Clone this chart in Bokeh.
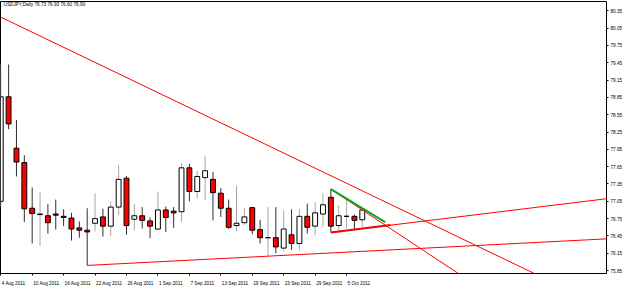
from bokeh.plotting import figure
from bokeh.models import FixedTicker, Label, Range1d, ColumnDataSource, PrintfTickFormatter
from bokeh.core.properties import value
from bokeh.embed import file_html
from bokeh.resources import INLINE

# ---------------- data ----------------
dates = ["4 Aug 2011", "5 Aug 2011", "8 Aug 2011", "9 Aug 2011", "10 Aug 2011", "11 Aug 2011",
         "12 Aug 2011", "15 Aug 2011", "16 Aug 2011", "17 Aug 2011", "18 Aug 2011", "19 Aug 2011",
         "22 Aug 2011", "23 Aug 2011", "24 Aug 2011", "25 Aug 2011", "26 Aug 2011", "29 Aug 2011",
         "30 Aug 2011", "31 Aug 2011", "1 Sep 2011", "2 Sep 2011", "5 Sep 2011", "6 Sep 2011",
         "7 Sep 2011", "8 Sep 2011", "9 Sep 2011", "12 Sep 2011", "13 Sep 2011", "14 Sep 2011",
         "15 Sep 2011", "16 Sep 2011", "19 Sep 2011", "20 Sep 2011", "21 Sep 2011", "22 Sep 2011",
         "23 Sep 2011", "26 Sep 2011", "27 Sep 2011", "28 Sep 2011", "29 Sep 2011", "30 Sep 2011",
         "3 Oct 2011", "4 Oct 2011", "5 Oct 2011", "6 Oct 2011", "7 Oct 2011"]

opens = [77.05, 78.86, 77.97, 77.72, 76.93, 76.82, 76.80, 76.83, 76.79, 76.76, 76.59, 76.55,
         76.67, 76.78, 76.62, 76.95, 77.45, 76.74, 76.80, 76.71, 76.57, 76.90, 76.88, 76.87,
         77.63, 77.22, 77.46, 77.43, 77.19, 76.93, 76.63, 76.68, 76.94, 76.56, 76.42, 76.42,
         76.24, 76.47, 76.32, 76.79, 76.62, 76.83, 77.12, 76.63, 76.79, 76.79, 76.73]
highs = [79.42, 79.42, 78.46, 77.85, 77.29, 77.21, 77.00, 77.08, 76.91, 76.85, 76.70, 76.93,
         77.19, 76.92, 77.05, 77.68, 77.49, 77.00, 76.95, 76.77, 77.22, 76.96, 76.95, 77.71,
         77.70, 77.58, 77.84, 77.56, 77.28, 77.08, 77.32, 76.93, 76.95, 76.73, 76.95, 76.95,
         76.89, 76.91, 76.92, 77.01, 77.04, 77.19, 77.26, 76.98, 77.08, 76.82, 76.93]
lows = [76.95, 78.30, 77.48, 76.69, 76.32, 76.28, 76.49, 76.56, 76.62, 76.37, 76.42, 75.94,
        76.53, 76.44, 76.45, 76.81, 76.47, 76.55, 76.58, 76.41, 76.55, 76.52, 76.59, 76.69,
        77.05, 77.10, 77.07, 76.72, 76.78, 76.57, 76.53, 76.64, 76.48, 76.32, 76.09, 76.15,
        76.18, 76.21, 76.20, 76.49, 76.46, 76.61, 76.51, 76.51, 76.58, 76.56, 76.60]
closes = [78.86, 78.39, 77.73, 76.92, 76.84, 76.83, 76.68, 76.81, 76.77, 76.57, 76.55, 76.52,
          76.75, 76.62, 76.95, 77.43, 76.63, 76.80, 76.72, 76.62, 76.90, 76.77, 76.85, 77.63,
          77.22, 77.48, 77.58, 77.20, 76.93, 76.60, 76.67, 76.78, 76.55, 76.42, 76.42, 76.26,
          76.57, 76.32, 76.79, 76.60, 76.85, 76.99, 76.62, 76.80, 76.79, 76.72, 76.90]

tick_labels = ["4 Aug 2011", "10 Aug 2011", "16 Aug 2011", "22 Aug 2011", "26 Aug 2011",
               "1 Sep 2011", "7 Sep 2011", "13 Sep 2011", "19 Sep 2011", "23 Sep 2011",
               "29 Sep 2011", "5 Oct 2011"]
price_ticks = [80.35, 80.05, 79.75, 79.45, 79.15, 78.85, 78.55, 78.25, 77.95, 77.65,
               77.35, 77.05, 76.75, 76.45, 76.15, 75.85]

title_text = "USDJPY,Daily  76.73 76.93 76.60 76.90"
last_price = 76.90

# trendlines: anchor1 (bar, price), anchor2 (bar, price), ray?, colour, width
tl_x0 = [0, 42, 42, 42, 42, 11]
tl_y0 = [80.24, 77.26, 77.26, 76.51, 76.51, 75.94]
tl_x1 = [40, 44, 48.9, 49.6, 45, 34]
tl_y1 = [77.624, 77.08, 76.69, 76.64, 76.56, 76.10]
tl_ray = [True, True, False, False, True, True]
tl_color = ["#FF0000", "#FF0000", "#16A016", "#FF0000", "#FF0000", "#FF0000"]
tl_width = [1, 1, 2, 2, 1, 1]

# ---------------- layout ----------------
W, H = 625, 288
FRAME_W = 606
PX_PER_BAR = 7.86
x_start = -0.03
x_end = x_start + FRAME_W / PX_PER_BAR
FONT = "Liberation Sans"
FS = "4.7px"

p = figure(width=W, height=H, output_backend="svg", toolbar_location=None,
           x_range=Range1d(x_start, x_end), y_range=Range1d(75.80, 80.51),
           y_axis_location="right", min_border_left=0, min_border_top=1,
           min_border_right=W - FRAME_W, min_border_bottom=12)
p.grid.visible = False
p.outline_line_color = "black"
p.outline_line_width = 1
p.background_fill_color = "white"
p.border_fill_color = "white"

# candles
xs = list(range(len(dates)))
bull = [c >= o for o, c in zip(opens, closes)]
src = ColumnDataSource(dict(
    x=xs, high=highs, low=lows,
    top=[max(o, c) for o, c in zip(opens, closes)],
    bottom=[min(o, c) for o, c in zip(opens, closes)],
    fill=["white" if b else "#FF0000" for b in bull],
    wick=["#A8A8A8" if b else "#303030" for b in bull],
))
p.segment(x0="x", y0="high", x1="x", y1="low", source=src, line_color="wick", line_width=1)
p.vbar(x="x", width=0.62, top="top", bottom="bottom", source=src,
       fill_color="fill", line_color="black", line_width=1)

# trendlines
for x0, y0, x1, y1, ray, col, lw in zip(tl_x0, tl_y0, tl_x1, tl_y1, tl_ray, tl_color, tl_width):
    if ray:
        slope = (y1 - y0) / (x1 - x0)
        xe = x_end + 1
        ye = y0 + slope * (xe - x0)
    else:
        xe, ye = x1, y1
    p.line([x0, xe], [y0, ye], line_color=col, line_width=lw)

# draw thin lines beneath? re-draw thick ones on top
# x axis (labels start at bar position)
cw = {' ': 0.278, 'A': 0.667, 'S': 0.667, 'O': 0.778, 'u': 0.556, 'g': 0.556, 'e': 0.556,
      'p': 0.556, 'c': 0.5, 't': 0.278}
def text_w(s, fpx=4.7):
    return sum(cw.get(ch, 0.556) for ch in s) * fpx

bar_ticks = [dates.index(lbl) for lbl in tick_labels]
centers = [b + (text_w(lbl) / 2 + 0.8) / PX_PER_BAR for b, lbl in zip(bar_ticks, tick_labels)]
xax = p.xaxis[0]
xax.ticker = FixedTicker(ticks=centers, minor_ticks=bar_ticks)
xax.major_label_overrides = {c: lbl for c, lbl in zip(centers, tick_labels)}
xax.major_tick_line_color = None
xax.minor_tick_in = 0
xax.minor_tick_out = 2
xax.minor_tick_line_color = "black"
xax.axis_line_color = None
xax.major_label_standoff = 1
xax.major_label_text_font = FONT
xax.major_label_text_font_size = FS
xax.major_label_text_color = "black"

yax = p.yaxis[0]
yax.ticker = FixedTicker(ticks=price_ticks, minor_ticks=[])
yax.formatter = PrintfTickFormatter(format="%.2f")
yax.major_tick_in = 0
yax.major_tick_out = 2
yax.major_tick_line_color = "black"
yax.minor_tick_line_color = None
yax.axis_line_color = None
yax.major_label_standoff = 2
yax.major_label_text_font = FONT
yax.major_label_text_font_size = FS
yax.major_label_text_color = "black"

# title text inside chart
p.add_layout(Label(x=3, y=272, x_units="screen", y_units="screen", text=title_text,
                   text_font=FONT, text_font_size=FS, text_color="black",
                   text_baseline="top"))

# current price box
p.add_layout(Label(x=x_end, y=last_price, x_units="data", y_units="data",
                   text="%.2f" % last_price, x_offset=0,
                   text_font=FONT, text_font_size=FS, text_color="white",
                   text_baseline="middle", text_align="left",
                   background_fill_color="black", padding=1))

open("out.html", "w").write(file_html(p, INLINE))
